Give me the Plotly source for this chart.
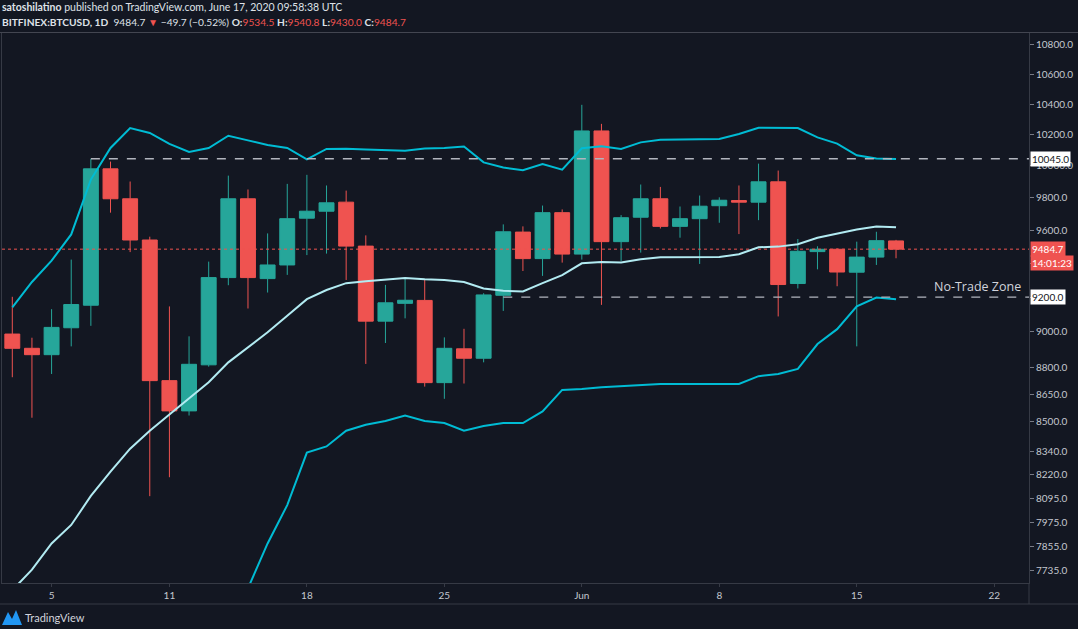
import math
import pandas as pd
import plotly.graph_objects as go

# ---------------- data ----------------
dates = pd.date_range("2020-05-03", "2020-06-17", freq="D").strftime("%Y-%m-%d").tolist()

opens = [8987, 8906, 8870, 9023, 9153, 9981, 9793, 9540, 8725, 8559, 8813, 9315, 9793, 9309, 9390,
         9673, 9716, 9772, 9503, 9061, 9164, 9181, 8714, 8903, 8850, 9211, 9588, 9428, 9707, 9455,
         10224, 9530, 9679, 9793, 9623, 9670, 9750, 9782, 9772, 9899, 9280, 9470, 9484, 9347, 9437, 9534.5]
highs = [9202, 8966, 9130, 9422, 10044, 10027, 9901, 9560, 9146, 8974, 9410, 9938, 9851, 9580, 9886,
         9943, 9876, 9844, 9568, 9272, 9309, 9301, 8968, 9017, 9223, 9635, 9623, 9751, 9727, 10395,
         10270, 9692, 9882, 9867, 9745, 9813, 9802, 9876, 10014, 9970, 9546, 9502, 9490, 9530, 9590, 9540.8]
lows = [8744, 8522, 8762, 8917, 9034, 9707, 9467, 8108, 8206, 8534, 8803, 9270, 9134, 9227, 9331,
        9449, 9458, 9301, 8818, 8936, 9077, 8692, 8625, 8709, 8827, 9120, 9354, 9325, 9404, 9422,
        9155, 9414, 9464, 9610, 9554, 9396, 9645, 9576, 9661, 9088, 9251, 9364, 9264, 8917, 9390, 9430.0]
closes = [8906, 8870, 9025, 9157, 9981, 9793, 9540, 8725, 8559, 8816, 9315, 9793, 9315, 9390, 9670,
          9716, 9768, 9503, 9061, 9167, 9182, 8714, 8906, 8850, 9213, 9590, 9428, 9707, 9455, 10224,
          9530, 9676, 9793, 9623, 9670, 9747, 9784, 9772, 9899, 9274, 9472, 9484, 9348, 9437, 9536, 9484.7]

bb_upper = [9140, 9289, 9416, 9574, 9913, 10114, 10243, 10211, 10140, 10089, 10114, 10193, 10163, 10133, 10114,
            10041, 10108, 10109, 10105, 10101, 10097, 10110, 10114, 10123, 10022, 9989, 9972, 10012, 9976,
            10112, 10125, 10108, 10150, 10167, 10167, 10171, 10172, 10204, 10245, 10245, 10243, 10182, 10142,
            10067, 10046, 10044]
bb_middle = [7638, 7738, 7868, 7961, 8109, 8235, 8356, 8452, 8540, 8630, 8716, 8827, 8912, 8997, 9092,
             9188, 9242, 9282, 9293, 9301, 9313, 9305, 9301, 9289, 9251, 9237, 9233, 9282, 9329,
             9400, 9408, 9404, 9424, 9436, 9436, 9437, 9437, 9454, 9496, 9500, 9514, 9554, 9578,
             9604, 9622, 9617]
bb_lower = [None, None, None, None, None, None, None, None, None, None, None, None, 7647, 7868, 8062,
            8335, 8368, 8452, 8484, 8504, 8534, 8504, 8493, 8452, 8477, 8493, 8493, 8556, 8674,
            8679, 8689, 8694, 8701, 8707, 8707, 8707, 8707, 8707, 8750, 8762, 8790, 8930, 9015,
            9146, 9198, 9188]

ytick_vals = [7735, 7855, 7975, 8095, 8220, 8340, 8500, 8650, 8800, 9000, 9200, 9400, 9600, 9800,
              10000, 10200, 10400, 10600, 10800]
# 9200 and 9400 are hidden behind the price badges in the reference
ytick_text = ["7735.0", "7855.0", "7975.0", "8095.0", "8220.0", "8340.0", "8500.0", "8650.0", "8800.0",
              "9000.0", "", "", "9600.0", "9800.0", "10000.0", "10200.0", "10400.0", "10600.0", "10800.0"]
xtick_vals = ["2020-05-05", "2020-05-11", "2020-05-18", "2020-05-25", "2020-06-01",
              "2020-06-08", "2020-06-15", "2020-06-22"]
xtick_text = ["5", "11", "18", "25", "Jun", "8", "15", "22"]

resistance = 10045.0
support = 9200.0
last_price = 9484.7
x_range = ["2020-05-02 11:24", "2020-06-23 18:30"]
y_range = [7673, 10880]

# ---------------- style ----------------
BG = "#131722"
UP = "#26a69a"
DOWN = "#ef5350"
BAND = "#00bcd4"
MID = "#b2ebf2"
GRAY = "#b2b5be"
LINE = "#363a45"
AXF = "Liberation Sans Narrow, Lato, sans-serif"
HEAD = "Lato, Open Sans, sans-serif"

W, H = 1078, 629
ML, MR, MT, MB = 2, 49, 33, 46
PW, PH = W - ML - MR, H - MT - MB


def px(X):
    return (X - ML) / PW


def py(Y):
    return (H - MB - Y) / PH


fig = go.Figure()

fig.add_trace(go.Scatter(x=dates, y=bb_upper, mode="lines", line=dict(color=BAND, width=2),
                         hoverinfo="skip", showlegend=False))
fig.add_trace(go.Scatter(x=dates, y=bb_lower, mode="lines", line=dict(color=BAND, width=2),
                         hoverinfo="skip", showlegend=False, connectgaps=False))

# horizontal levels
fig.add_trace(go.Scatter(x=[x_range[0], x_range[1]], y=[last_price, last_price], mode="lines",
                         line=dict(color=DOWN, width=1, dash="dot"), hoverinfo="skip", showlegend=False))
fig.add_trace(go.Scatter(x=["2020-05-07", x_range[1]], y=[resistance, resistance], mode="lines",
                         line=dict(color=GRAY, width=1.3, dash="dash"), hoverinfo="skip", showlegend=False))
fig.add_trace(go.Scatter(x=["2020-05-28", x_range[1]], y=[support, support], mode="lines",
                         line=dict(color=GRAY, width=1.3, dash="dash"), hoverinfo="skip", showlegend=False))

fig.add_trace(go.Candlestick(
    x=dates, open=opens, high=highs, low=lows, close=closes,
    increasing=dict(line=dict(color=UP, width=1), fillcolor=UP),
    decreasing=dict(line=dict(color=DOWN, width=1), fillcolor=DOWN),
    whiskerwidth=0, showlegend=False, hoverinfo="skip"))

fig.add_trace(go.Scatter(x=dates, y=bb_middle, mode="lines", line=dict(color=MID, width=2),
                         hoverinfo="skip", showlegend=False))

annotations = []
# header
annotations.append(dict(
    xref="paper", yref="paper", x=px(0), y=py(7.5), xanchor="left", yanchor="middle", showarrow=False,
    text="<b>satoshilatino</b> published on TradingView.com, June 17, 2020 09:58:38 UTC",
    font=dict(family=HEAD, size=10.5, color="#dfe2e8")))
annotations.append(dict(
    xref="paper", yref="paper", x=px(0), y=py(22), xanchor="left", yanchor="middle", showarrow=False,
    text=("<b>BITFINEX:BTCUSD, 1D</b>  9484.7 <span style='color:#ef5350'>▼</span> −49.7 (−0.52%) "
          "<b>O:</b><span style='color:#ef5350'>9534.5</span> <b>H:</b><span style='color:#ef5350'>9540.8</span> "
          "<b>L:</b><span style='color:#ef5350'>9430.0</span> <b>C:</b><span style='color:#ef5350'>9484.7</span>"),
    font=dict(family=HEAD, size=10.2, color="#dfe2e8")))

# price labels on the axis
annotations.append(dict(xref="paper", yref="y", x=1, y=math.log10(resistance), xanchor="left", xshift=1,
                        showarrow=False, text="10045.0", bgcolor="#ffffff", borderpad=1,
                        font=dict(family=AXF, size=10, color=BG)))
annotations.append(dict(xref="paper", yref="y", x=1, y=math.log10(support), xanchor="left", xshift=1,
                        showarrow=False, text="9200.0", bgcolor="#ffffff", borderpad=1,
                        font=dict(family=AXF, size=10, color=BG)))
annotations.append(dict(xref="paper", yref="y", x=1, y=math.log10(last_price), xanchor="left", xshift=1,
                        showarrow=False, text="9484.7", bgcolor=DOWN, borderpad=1,
                        font=dict(family=AXF, size=10, color="#ffffff")))
annotations.append(dict(xref="paper", yref="y", x=1, y=math.log10(last_price), xanchor="left", xshift=1,
                        yshift=-14, showarrow=False, text="14:01:23", bgcolor=DOWN, borderpad=1,
                        font=dict(family=AXF, size=10, color="#ffffff")))
# zone label
annotations.append(dict(xref="paper", yref="y", x=px(1023), y=math.log10(support), xanchor="right",
                        yanchor="bottom", yshift=0, showarrow=False, text="No-Trade Zone",
                        font=dict(family="Open Sans, sans-serif", size=12.5, color="#d1d4dc")))
# footer
annotations.append(dict(xref="paper", yref="paper", x=px(23), y=py(617), xanchor="left", yanchor="middle",
                        showarrow=False, text="TradingView",
                        font=dict(family=AXF, size=11, color="#d1d4dc")))

shapes = [
    dict(type="line", xref="paper", yref="paper", x0=px(0), x1=px(W), y0=py(604), y1=py(604),
         line=dict(color=LINE, width=1)),
    dict(type="line", xref="paper", yref="paper", x0=1, x1=1, y0=py(583), y1=py(604),
         line=dict(color=LINE, width=1)),
    dict(type="line", xref="paper", yref="paper", x0=px(0), x1=px(W), y0=py(32.5), y1=py(32.5),
         line=dict(color="#434651", width=1)),
    dict(type="path", xref="paper", yref="paper",
         path=(f"M {px(2)},{py(625)} L {px(8)},{py(612)} L {px(12)},{py(619)} "
               f"L {px(16)},{py(610)} L {px(22)},{py(625)} Z"),
         fillcolor="#2196f3", line=dict(width=0)),
]

fig.update_layout(
    width=W, height=H,
    margin=dict(l=ML, r=MR, t=MT, b=MB, pad=0),
    paper_bgcolor=BG, plot_bgcolor=BG,
    boxgap=0.24, boxgroupgap=0,
    showlegend=False,
    hovermode=False,
    annotations=annotations,
    shapes=shapes,
    xaxis=dict(type="date", range=x_range, rangeslider=dict(visible=False),
               showgrid=False, zeroline=False, showline=True, linecolor=LINE, mirror=True,
               tickmode="array", tickvals=xtick_vals, ticktext=xtick_text,
               ticks="outside", ticklen=3, tickcolor=LINE,
               tickfont=dict(family=AXF, size=10, color="#c4c7cf")),
    yaxis=dict(type="log", range=[math.log10(y_range[0]), math.log10(y_range[1])], side="right",
               showgrid=False, zeroline=False, showline=True, linecolor=LINE, mirror=True,
               tickmode="array", tickvals=ytick_vals, ticktext=ytick_text,
               ticks="outside", ticklen=4, tickcolor="#787b86",
               tickfont=dict(family=AXF, size=10, color="#c4c7cf")),
)

fig.write_html("out.html",
               config={"displayModeBar": False},
               post_script="document.body.style.margin='0px';document.body.style.padding='0px';"
                           "document.body.style.background='#131722';")
